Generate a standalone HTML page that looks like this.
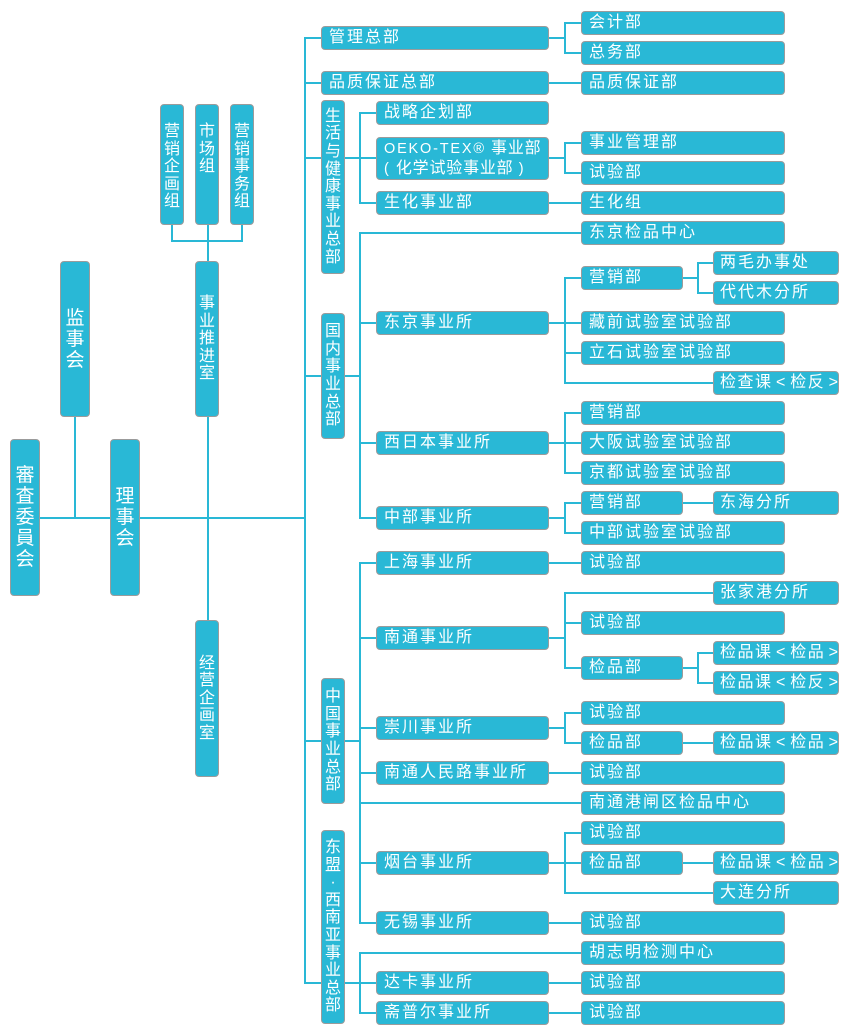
<!DOCTYPE html>
<html><head><meta charset="utf-8">
<style>
html,body{margin:0;padding:0;background:#fff;}
body{width:850px;height:1035px;position:relative;overflow:hidden;font-family:"Liberation Sans","Noto Sans CJK SC",sans-serif;}
svg{position:absolute;left:0;top:0;}
.b{position:absolute;box-sizing:border-box;background:#29b8d6;border:1px solid #9b9b9b;border-radius:4px;color:#fff;font-size:16px;letter-spacing:2px;padding-left:7px;height:24px;line-height:22px;white-space:nowrap;overflow:hidden;}
.c1{left:321px;width:228px;}
.c2{left:376px;width:173px;}
.c3{left:581px;width:204px;}
.c4{left:581px;width:102px;}
.c5{left:713px;width:126px;padding-left:6px;}
.k{letter-spacing:1.5px;word-spacing:-2.5px;}
.v{position:absolute;box-sizing:border-box;background:#29b8d6;border:1px solid #9b9b9b;border-radius:4px;color:#fff;font-size:16px;line-height:17.6px;text-align:center;display:flex;flex-direction:column;justify-content:center;align-items:center;}
.v.big{font-size:19px;line-height:21px;}
.v.top{justify-content:flex-start;padding-top:18px;line-height:17.6px;}
.oeko{height:43px;line-height:19px;padding-top:1px;letter-spacing:0.8px;}
.lat{font-size:14.5px;letter-spacing:1.8px;}
</style></head><body>
<svg width="850" height="1035" viewBox="0 0 850 1035">
<path fill="none" stroke="#29b8d6" stroke-width="2" stroke-linecap="square" d="
M40 518H305 M75 417V518 M208 225V620 M172 225V241H242V225 M305 38V983
M305 38H321 M305 83H321 M305 158H321 M305 376H321 M305 741H321 M305 983H321
M345 158H376 M360 113V203 M360 113H376 M360 203H376
M549 38H565 M565 23V53 M565 23H581 M565 53H581
M549 83H581
M549 158H565 M565 143V173 M565 143H581 M565 173H581
M549 203H581
M345 376H360 M360 233V518 M360 233H581 M360 323H376 M360 443H376 M360 518H376
M549 323H581 M565 278V383 M565 278H581 M565 353H581 M565 383H713
M683 278H698 M698 263V293 M698 263H713 M698 293H713
M549 443H581 M565 413V473 M565 413H581 M565 473H581
M549 518H565 M565 503V533 M565 503H581 M565 533H581 M683 503H713
M345 741H360 M360 563V923 M360 563H376 M360 638H376 M360 728H376 M360 773H376 M360 863H376 M360 923H376 M360 803H581
M549 563H581
M549 638H565 M565 593V668 M565 593H713 M565 623H581 M565 668H581
M683 668H698 M698 653V683 M698 653H713 M698 683H713
M549 728H565 M565 713V743 M565 713H581 M565 743H581 M683 743H713
M549 773H581
M549 863H581 M565 833V893 M565 833H581 M565 893H713 M683 863H713
M549 923H581
M345 983H376 M360 953V1013 M360 953H581 M360 1013H376
M549 983H581 M549 1013H581"/>
</svg>

<!-- left vertical boxes -->
<div class="v big" style="left:10px;top:439px;width:30px;height:157px;"><div>審<br>査<br>委<br>員<br>会</div></div>
<div class="v big" style="left:60px;top:261px;width:30px;height:156px;"><div>监<br>事<br>会</div></div>
<div class="v big" style="left:110px;top:439px;width:30px;height:157px;"><div>理<br>事<br>会</div></div>
<div class="v top" style="left:160px;top:104px;width:24px;height:121px;"><div>营<br>销<br>企<br>画<br>组</div></div>
<div class="v top" style="left:195px;top:104px;width:24px;height:121px;"><div>市<br>场<br>组</div></div>
<div class="v top" style="left:230px;top:104px;width:24px;height:121px;"><div>营<br>销<br>事<br>务<br>组</div></div>
<div class="v" style="left:195px;top:261px;width:24px;height:156px;"><div>事<br>业<br>推<br>进<br>室</div></div>
<div class="v" style="left:195px;top:620px;width:24px;height:157px;"><div>经<br>营<br>企<br>画<br>室</div></div>
<div class="v" style="left:321px;top:100px;width:24px;height:174px;"><div>生<br>活<br>与<br>健<br>康<br>事<br>业<br>总<br>部</div></div>
<div class="v" style="left:321px;top:313px;width:24px;height:126px;"><div>国<br>内<br>事<br>业<br>总<br>部</div></div>
<div class="v" style="left:321px;top:678px;width:24px;height:126px;"><div>中<br>国<br>事<br>业<br>总<br>部</div></div>
<div class="v" style="left:321px;top:830px;width:24px;height:194px;"><div>东<br>盟<br>·<br>西<br>南<br>亚<br>事<br>业<br>总<br>部</div></div>

<!-- column 1 -->
<div class="b c1" style="top:26px;">管理总部</div>
<div class="b c1" style="top:71px;">品质保证总部</div>

<!-- column 2 -->
<div class="b c2" style="top:101px;">战略企划部</div>
<div class="b c2 oeko" style="top:137px;"><span class="lat">OEKO-TEX®</span> 事业部<br><span class="lat">(</span> 化学试验事业部 <span class="lat">)</span></div>
<div class="b c2" style="top:191px;">生化事业部</div>
<div class="b c2" style="top:311px;">东京事业所</div>
<div class="b c2" style="top:431px;">西日本事业所</div>
<div class="b c2" style="top:506px;">中部事业所</div>
<div class="b c2" style="top:551px;">上海事业所</div>
<div class="b c2" style="top:626px;">南通事业所</div>
<div class="b c2" style="top:716px;">崇川事业所</div>
<div class="b c2" style="top:761px;">南通人民路事业所</div>
<div class="b c2" style="top:851px;">烟台事业所</div>
<div class="b c2" style="top:911px;">无锡事业所</div>
<div class="b c2" style="top:971px;">达卡事业所</div>
<div class="b c2" style="top:1001px;">斋普尔事业所</div>

<!-- column 3 -->
<div class="b c3" style="top:11px;">会计部</div>
<div class="b c3" style="top:41px;">总务部</div>
<div class="b c3" style="top:71px;">品质保证部</div>
<div class="b c3" style="top:131px;">事业管理部</div>
<div class="b c3" style="top:161px;">试验部</div>
<div class="b c3" style="top:191px;">生化组</div>
<div class="b c3" style="top:221px;">东京检品中心</div>
<div class="b c3" style="top:311px;">藏前试验室试验部</div>
<div class="b c3" style="top:341px;">立石试验室试验部</div>
<div class="b c3" style="top:401px;">营销部</div>
<div class="b c3" style="top:431px;">大阪试验室试验部</div>
<div class="b c3" style="top:461px;">京都试验室试验部</div>
<div class="b c3" style="top:521px;">中部试验室试验部</div>
<div class="b c3" style="top:551px;">试验部</div>
<div class="b c3" style="top:611px;">试验部</div>
<div class="b c3" style="top:701px;">试验部</div>
<div class="b c3" style="top:761px;">试验部</div>
<div class="b c3" style="top:791px;">南通港闸区检品中心</div>
<div class="b c3" style="top:821px;">试验部</div>
<div class="b c3" style="top:911px;">试验部</div>
<div class="b c3" style="top:941px;">胡志明检测中心</div>
<div class="b c3" style="top:971px;">试验部</div>
<div class="b c3" style="top:1001px;">试验部</div>

<!-- column 4 (short) -->
<div class="b c4" style="top:266px;">营销部</div>
<div class="b c4" style="top:491px;">营销部</div>
<div class="b c4" style="top:656px;">检品部</div>
<div class="b c4" style="top:731px;">检品部</div>
<div class="b c4" style="top:851px;">检品部</div>

<!-- column 5 -->
<div class="b c5" style="top:251px;">两毛办事处</div>
<div class="b c5" style="top:281px;">代代木分所</div>
<div class="b c5 k" style="top:371px;">检查课 &lt; 检反 &gt;</div>
<div class="b c5" style="top:491px;">东海分所</div>
<div class="b c5" style="top:581px;">张家港分所</div>
<div class="b c5 k" style="top:641px;">检品课 &lt; 检品 &gt;</div>
<div class="b c5 k" style="top:671px;">检品课 &lt; 检反 &gt;</div>
<div class="b c5 k" style="top:731px;">检品课 &lt; 检品 &gt;</div>
<div class="b c5 k" style="top:851px;">检品课 &lt; 检品 &gt;</div>
<div class="b c5" style="top:881px;">大连分所</div>
</body></html>
